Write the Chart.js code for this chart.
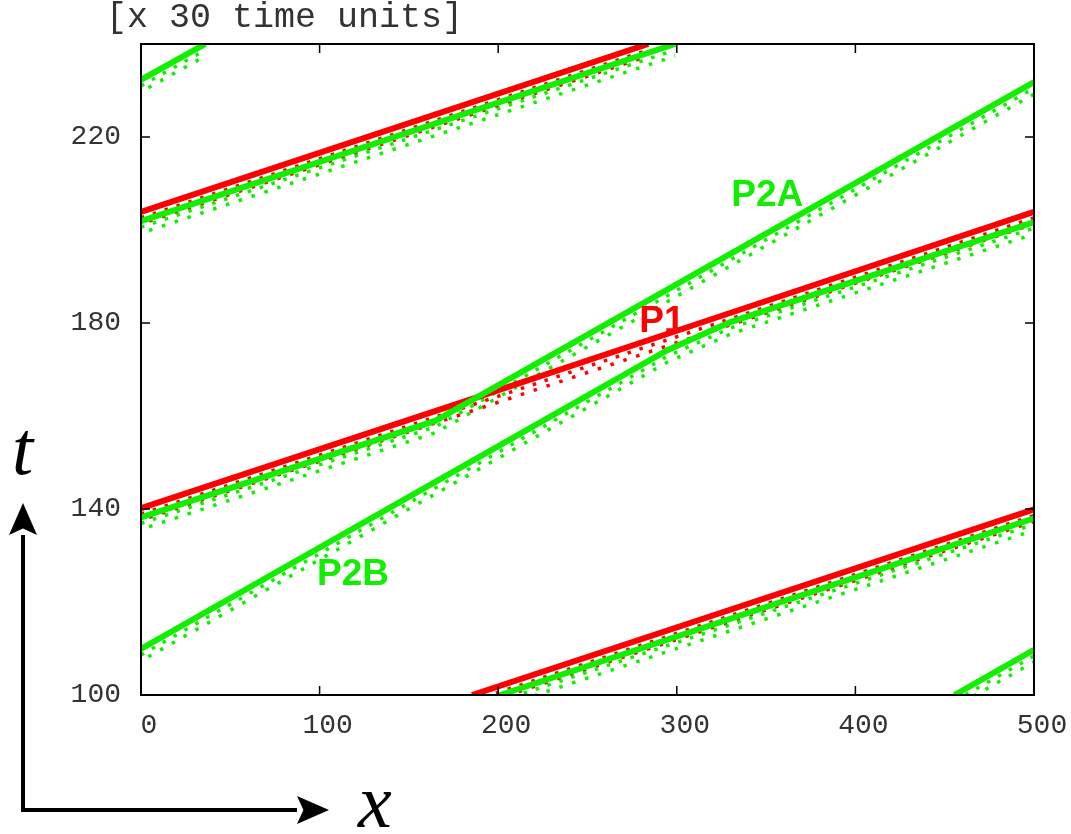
<!DOCTYPE html>
<html lang="en">
<head>
  <meta charset="UTF-8" />
  <title>P1 / P2 trajectories</title>
  <script src="https://cdn.jsdelivr.net/npm/chart.js"></script>
  <style>
    html, body { margin: 0; padding: 0; background: #fff; }
    #wrap { width: 1071px; height: 834px; position: relative; }
  </style>
</head>
<body>
  <div id="wrap"><canvas id="grafica"></canvas></div>

  <script>
    // axis ticks
    const xTicks = [0, 100, 200, 300, 400, 500];
    const tTicks = [100, 140, 180, 220];

    // P1 (red) branches, x position and t (x 30 time units)
    const p1aX = [0, 284];
    const p1aT = [203.9, 240];
    const p1bX = [0, 188, 313, 500];
    const p1bT = [140.2, 164, 180, 203.9];
    const p1cX = [185.4, 500];
    const p1cT = [100, 139.9];

    // P2 (green) branches
    const p2aX = [0, 299];
    const p2aT = [201.9, 240];
    const p2bX = [0, 165, 188, 500];          // with P1, then P2A
    const p2bT = [138.2, 159, 164, 231.8];
    const p2cX = [0, 36];
    const p2cT = [232.3, 240];
    const p2dX = [0, 295, 330, 500];          // P2B, then with P1
    const p2dT = [109.9, 174.2, 180.2, 201.7];
    const p2eX = [201, 500];
    const p2eT = [100, 138];
    const p2fX = [455.5, 500];
    const p2fT = [100, 109.7];

    // text labels
    const labelText = ['P1', 'P2A', 'P2B'];
    const labelX = [279, 330.5, 98.6];
    const labelT = [178.1, 205.2, 123.7];

    const RED = '#ff0000';
    const GREEN = '#11ee00';

    function pts(xs, ts) {
      return xs.map((x, i) => ({ x: x, y: ts[i] }));
    }

    const ramas = [
      [p2aX, p2aT, GREEN], [p2bX, p2bT, GREEN], [p2cX, p2cT, GREEN],
      [p2dX, p2dT, GREEN], [p2eX, p2eT, GREEN], [p2fX, p2fT, GREEN],
      [p1aX, p1aT, RED], [p1bX, p1bT, RED], [p1cX, p1cT, RED]
    ];

    const datasets = [];
    ramas.forEach(([xs, ts, col]) => {
      const data = pts(xs, ts);
      // main trace
      datasets.push({ data: data, borderColor: col, borderWidth: 6, order: 0 });
      // dotted trail of secondary peaks underneath
      datasets.push({ data: data, borderColor: col, borderWidth: 3.5, borderDash: [3.5, 9],
                      shift: 6, clip: false, order: 1 });
      datasets.push({ data: data, borderColor: col, borderWidth: 3.5, borderDash: [3.5, 10],
                      borderDashOffset: 5, shift: 12, clip: false, order: 2 });
    });

    const trails = {
      id: 'trails',
      beforeDatasetDraw(chart, args) {
        const ds = chart.data.datasets[args.index];
        if (!ds.shift) return;
        const a = chart.chartArea, ctx = chart.ctx;
        ctx.save();
        ctx.beginPath();
        ctx.rect(a.left, a.top, a.right - a.left, a.bottom - a.top);
        ctx.clip();
        ctx.translate(0, ds.shift);
      },
      afterDatasetDraw(chart, args) {
        if (chart.data.datasets[args.index].shift) chart.ctx.restore();
      }
    };

    function flecha(ctx, x1, y1, x2, y2) {
      const ang = Math.atan2(y2 - y1, x2 - x1);
      const L = 32, W = 14;
      ctx.beginPath();
      ctx.moveTo(x1, y1);
      ctx.lineTo(x2 - L * Math.cos(ang), y2 - L * Math.sin(ang));
      ctx.stroke();
      ctx.beginPath();
      ctx.moveTo(x2, y2);
      ctx.lineTo(x2 - L * Math.cos(ang) - W * Math.sin(ang), y2 - L * Math.sin(ang) + W * Math.cos(ang));
      ctx.lineTo(x2 - L * 0.8 * Math.cos(ang), y2 - L * 0.8 * Math.sin(ang));
      ctx.lineTo(x2 - L * Math.cos(ang) + W * Math.sin(ang), y2 - L * Math.sin(ang) - W * Math.cos(ang));
      ctx.closePath();
      ctx.fill();
    }

    const marco = {
      id: 'marco',
      afterDraw(chart) {
        const { ctx, chartArea: a, scales: { x, y } } = chart;
        ctx.save();
        ctx.strokeStyle = '#000';
        ctx.fillStyle = '#000';
        ctx.lineWidth = 1.5;
        ctx.beginPath();
        x.ticks.forEach(tk => {
          const px = x.getPixelForValue(tk.value);
          ctx.moveTo(px, a.bottom); ctx.lineTo(px, a.bottom - 9);
          ctx.moveTo(px, a.top); ctx.lineTo(px, a.top + 9);
        });
        y.ticks.forEach(tk => {
          const py = y.getPixelForValue(tk.value);
          ctx.moveTo(a.left, py); ctx.lineTo(a.left + 9, py);
          ctx.moveTo(a.right, py); ctx.lineTo(a.right - 9, py);
        });
        ctx.stroke();
        ctx.lineWidth = 2;
        ctx.strokeRect(a.left, a.top, a.right - a.left, a.bottom - a.top);

        // labels of the branches
        ctx.font = 'bold 37px "Liberation Sans", Arial, sans-serif';
        ctx.textBaseline = 'alphabetic';
        ctx.textAlign = 'left';
        labelText.forEach((txt, i) => {
          ctx.fillStyle = txt === 'P1' ? RED : GREEN;
          ctx.fillText(txt, x.getPixelForValue(labelX[i]), y.getPixelForValue(labelT[i]));
        });

        // title
        ctx.fillStyle = '#333';
        ctx.font = '35px "Liberation Mono", monospace';
        ctx.fillText('[x 30 time units]', 106, 27);

        // axis arrows
        ctx.fillStyle = '#000';
        ctx.lineWidth = 4;
        ctx.lineCap = 'butt';
        flecha(ctx, 23, 812, 23, 503);
        flecha(ctx, 21, 810, 329, 810);

        ctx.font = 'italic 76px "Liberation Serif", "DejaVu Serif", serif';
        ctx.fillText('t', 12, 474);
        ctx.fillText('x', 358, 827);
        ctx.restore();
      }
    };

    new Chart(document.getElementById('grafica'), {
      type: 'line',
      data: { datasets: datasets },
      plugins: [trails, marco],
      options: {
        responsive: true,
        maintainAspectRatio: false,
        animation: false,
        layout: { padding: { top: 44, right: 37, left: 0, bottom: 0 } },
        elements: { point: { radius: 0 }, line: { tension: 0 } },
        plugins: { legend: { display: false }, tooltip: { enabled: false } },
        scales: {
          x: {
            type: 'linear', min: 0, max: 500,
            grid: { display: false }, border: { display: false },
            afterBuildTicks: s => { s.ticks = xTicks.map(v => ({ value: v })); },
            afterFit: s => { s.height = 139; s.paddingLeft = 0; s.paddingRight = 0; },
            ticks: { padding: 6, labelOffset: 8, color: '#333', maxRotation: 0,
                     font: { family: '"Liberation Mono", monospace', size: 28 } }
          },
          y: {
            type: 'linear', min: 100, max: 240,
            grid: { display: false }, border: { display: false },
            afterBuildTicks: s => { s.ticks = tTicks.map(v => ({ value: v })); },
            afterFit: s => { s.width = 141; s.paddingTop = 0; s.paddingBottom = 0; },
            ticks: { padding: 12, color: '#333',
                     font: { family: '"Liberation Mono", monospace', size: 28 } }
          }
        }
      }
    });
  </script>
</body>
</html>
